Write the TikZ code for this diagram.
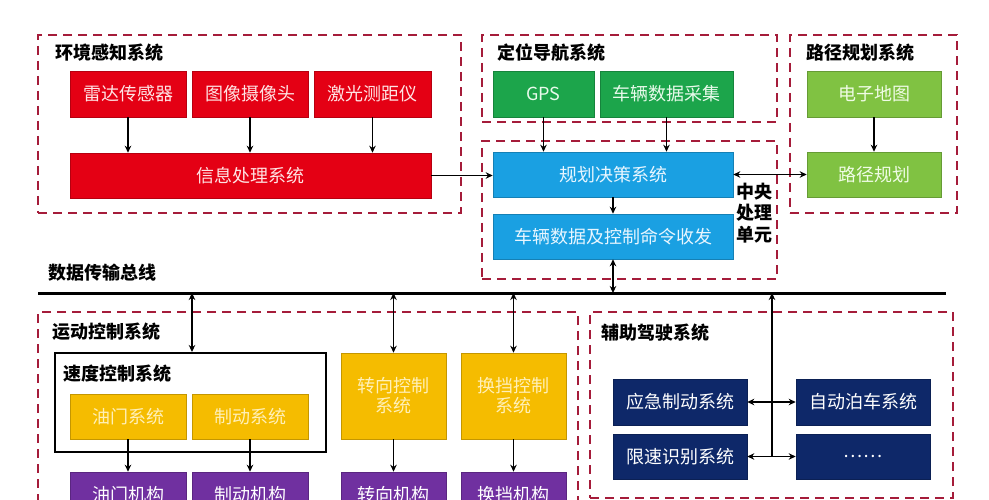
\documentclass[tikz,border=0pt]{standalone}
\usepackage{fontspec}
\setmainfont{Noto Sans CJK SC}
\usetikzlibrary{arrows.meta}
\definecolor{dashred}{RGB}{165,28,58}
\definecolor{cred}{RGB}{228,0,20}
\definecolor{cgreen}{RGB}{28,165,75}
\definecolor{clgreen}{RGB}{128,194,66}
\definecolor{cblue}{RGB}{26,160,226}
\definecolor{cyellow}{RGB}{245,188,0}
\definecolor{cpurple}{RGB}{112,48,160}
\definecolor{cnavy}{RGB}{14,40,105}
\tikzset{
  box/.style={inner sep=0pt, align=center, font=\fontsize{18}{20}\selectfont},
  redbox/.style={box, fill=cred, draw=cred!80!black, line width=0.6pt, text={rgb,255:red,255;green,228;blue,228}},
  greenbox/.style={box, fill=cgreen, draw=cgreen!80!black, line width=0.6pt, text={rgb,255:red,232;green,250;blue,235}},
  lgreenbox/.style={box, fill=clgreen, draw=clgreen!80!black, line width=0.6pt, text={rgb,255:red,240;green,252;blue,230}},
  bluebox/.style={box, fill=cblue, draw=cblue!80!black, line width=0.6pt, text={rgb,255:red,232;green,246;blue,255}},
  yellowbox/.style={box, fill=cyellow, draw=cyellow!80!black, line width=0.6pt, text={rgb,255:red,255;green,240;blue,185}},
  purplebox/.style={box, fill=cpurple, draw=cpurple!80!black, line width=0.6pt, text=white},
  navybox/.style={box, fill=cnavy, draw=cnavy!80!black, line width=0.6pt, text=white},
  dashbox/.style={draw=dashred, line width=2.4pt, dash pattern=on 9pt off 6pt, inner sep=0pt},
  title/.style={anchor=west, inner sep=0pt, font=\fontsize{18}{20}\selectfont\bfseries},
  arr/.style={-{Stealth[length=7pt,width=6.5pt]}, line width=1.9pt},
  darr/.style={{Stealth[length=7pt,width=6.5pt]}-{Stealth[length=7pt,width=6.5pt]}, line width=1.9pt},
}
\begin{document}
\begin{tikzpicture}[x=1pt,y=-1pt]
\useasboundingbox (0,0) rectangle (989,500);
\clip (0,0) rectangle (989,500);
\fill[white] (0,0) rectangle (989,500);

% ---------- dashed containers ----------
\node[dashbox, minimum width=423, minimum height=178] (env) at (249.5,124) {};
\node[dashbox, minimum width=295, minimum height=87] (pos) at (629.5,78.5) {};
\node[dashbox, minimum width=295, minimum height=138] (cpu) at (629.5,210) {};
\node[dashbox, minimum width=167, minimum height=178] (pathsys) at (873.5,124) {};
\node[dashbox, minimum width=540, minimum height=208] (motion) at (308,416) {};
\node[dashbox, minimum width=363, minimum height=186] (assist) at (771.5,405) {};

% ---------- titles ----------
\node[title] (tenv) at (55,53) {环境感知系统};
\node[title] (tpos) at (497,53) {定位导航系统};
\node[title] (tpath) at (806,53) {路径规划系统};
\node[title] (tbus) at (48,273) {数据传输总线};
\node[title] (tmot) at (52,332) {运动控制系统};
\node[title] (tspd) at (63,374) {速度控制系统};
\node[title] (tast) at (601,333) {辅助驾驶系统};
\node[inner sep=0pt, align=center, font=\fontsize{18}{21.5}\selectfont\bfseries] (tcpu) at (754.5,213) {中央\\处理\\单元};

% ---------- environment perception ----------
\node[redbox, minimum width=116, minimum height=46] (radar) at (128,94) {雷达传感器};
\node[redbox, minimum width=116, minimum height=46] (camera) at (250,94) {图像摄像头};
\node[redbox, minimum width=117, minimum height=46] (lidar) at (372.5,94) {激光测距仪};
\node[redbox, minimum width=361, minimum height=45] (info) at (250.5,175.5) {信息处理系统};

% ---------- positioning ----------
\node[greenbox, minimum width=101, minimum height=46] (gps) at (543.5,94) {GPS};
\node[greenbox, minimum width=133, minimum height=46] (vdata) at (666.5,94) {车辆数据采集};

% ---------- central processing ----------
\node[bluebox, minimum width=240, minimum height=45] (plan) at (613,174.5) {规划决策系统};
\node[bluebox, minimum width=240, minimum height=45] (cmd) at (613,236.5) {车辆数据及控制命令收发};

% ---------- path planning ----------
\node[lgreenbox, minimum width=134, minimum height=46] (map) at (874,94) {电子地图};
\node[lgreenbox, minimum width=134, minimum height=45] (route) at (874,174.5) {路径规划};

% ---------- bus ----------
\coordinate (busL) at (38,293);
\coordinate (busR) at (946,293);
\draw[line width=3pt] (busL) -- (busR);

% ---------- motion control ----------
\node[draw=black, line width=2pt, minimum width=271, minimum height=99, inner sep=0pt] (spd) at (190.5,402.5) {};
\node[yellowbox, minimum width=116, minimum height=45] (throttle) at (128,416.5) {油门系统};
\node[yellowbox, minimum width=116, minimum height=45] (brake) at (250,416.5) {制动系统};
\node[yellowbox, minimum width=105, minimum height=86] (steer) at (393.5,396) {转向控制\\系统};
\node[yellowbox, minimum width=105, minimum height=86] (gear) at (513.5,396) {换挡控制\\系统};
\node[purplebox, minimum width=116, minimum height=45] (throttleact) at (128,494.5) {油门机构};
\node[purplebox, minimum width=116, minimum height=45] (brakeact) at (250,494.5) {制动机构};
\node[purplebox, minimum width=105, minimum height=45] (steeract) at (393.5,494.5) {转向机构};
\node[purplebox, minimum width=105, minimum height=45] (gearact) at (513.5,494.5) {换挡机构};

% ---------- assisted driving ----------
\node[navybox, minimum width=134, minimum height=46] (ebrake) at (680,402) {应急制动系统};
\node[navybox, minimum width=134, minimum height=45] (speedlim) at (680,456.5) {限速识别系统};
\node[navybox, minimum width=134, minimum height=46] (park) at (863,402) {自动泊车系统};
\node[navybox, minimum width=134, minimum height=45] (dots) at (863,456.5) {……};
\coordinate (junc) at (772,456.5);

% ---------- connectors ----------
\draw[arr] (radar.south) -- (radar.south |- info.north);
\draw[arr] (camera.south) -- (camera.south |- info.north);
\draw[arr] (lidar.south) -- (lidar.south |- info.north);
\draw[arr] (info.east) -- (info.east -| plan.west);
\draw[arr] (gps.south) -- (gps.south |- plan.north);
\draw[arr] (vdata.south) -- (vdata.south |- plan.north);
\draw[arr] (plan.south) -- (cmd.north);
\draw[darr] (cmd.south) -- (cmd.south |- busL);
\draw[darr] (plan.east) -- (plan.east -| route.west);
\draw[arr] (map.south) -- (route.north);

\draw[darr] ([xshift=1.5pt]spd.north |- busL) -- ([xshift=1.5pt]spd.north);
\draw[darr] (steer.north |- busL) -- (steer.north);
\draw[darr] (gear.north |- busL) -- (gear.north);
\draw[arr] (throttle.south) -- (throttleact.north);
\draw[arr] (brake.south) -- (brakeact.north);
\draw[arr] (steer.south) -- (steeract.north);
\draw[arr] (gear.south) -- (gearact.north);

\draw[arr] (junc) -- (junc |- busL);
\draw[darr] (ebrake.east) -- (park.west);
\draw[darr] (speedlim.east) -- (dots.west);
\end{tikzpicture}
\end{document}
